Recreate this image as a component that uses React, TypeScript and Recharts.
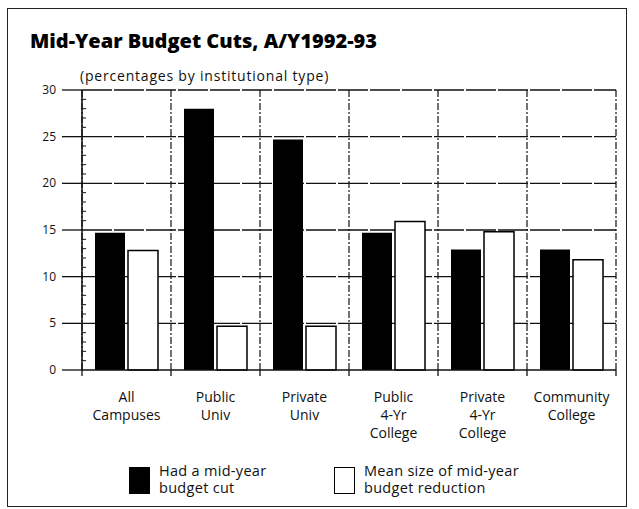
import React from "react";
import { BarChart, Bar, XAxis, YAxis, CartesianGrid } from "recharts";

const categories = [
  "All\nCampuses",
  "Public\nUniv",
  "Private\nUniv",
  "Public\n4-Yr\nCollege",
  "Private\n4-Yr\nCollege",
  "Community\nCollege",
];
const hadCut = [14.7, 28, 24.7, 14.7, 12.9, 12.9];
const meanSize = [12.8, 4.7, 4.7, 15.9, 14.8, 11.8];
const yMajorTicks = [0, 5, 10, 15, 20, 25, 30];
const yAllTicks = Array.from({ length: 31 }, (_, i) => i);
const gridYValues = [5, 10, 15, 20, 25, 30];
const seriesNames = ["Had a mid-year\nbudget cut", "Mean size of mid-year\nbudget reduction"];

const data = categories.map((c, i) => ({ name: c, hadCut: hadCut[i], meanSize: meanSize[i] }));

const FONT = "'Open Sans', 'DejaVu Sans', sans-serif";
const TICK_SIZE = 20;
const TICK_MARGIN = 6;

const YTick = (props: any) => {
  const { x, y, payload } = props;
  const v = payload.value;
  const axisX = x + TICK_SIZE + TICK_MARGIN;
  if (yMajorTicks.includes(v)) {
    return (
      <g>
        <line x1={axisX - TICK_SIZE} x2={axisX} y1={y} y2={y} stroke="#111" strokeWidth={1.3} />
        <text x={x} y={y} dy={4} textAnchor="end" fontSize={12} fontFamily={FONT} fill="#111">
          {v}
        </text>
      </g>
    );
  }
  return <line x1={axisX} x2={axisX + 4} y1={y} y2={y} stroke="#111" strokeWidth={1} />;
};

const XTick = (props: any) => {
  const { x, y, payload, width, visibleTicksCount, index } = props;
  const lines = String(payload.value).split("\n");
  const bw = width / visibleTicksCount;
  const left = x - bw / 2;
  const right = x + bw / 2;
  return (
    <g>
      <line x1={left} x2={left} y1={y} y2={y + 6} stroke="#111" strokeWidth={1.3} />
      {index === visibleTicksCount - 1 && (
        <line x1={right} x2={right} y1={y} y2={y + 6} stroke="#111" strokeWidth={1.3} />
      )}
      <text x={x} y={y} textAnchor="middle" fontSize={14} fontFamily={FONT} fill="#111">
        {lines.map((l, i) => (
          <tspan key={i} x={x} dy={i === 0 ? 32 : 18}>
            {l}
          </tspan>
        ))}
      </text>
    </g>
  );
};

const verticalGen = (args: any) => {
  const off = args.offset;
  const n = categories.length;
  return [...categories.map((_, i) => off.left + (i * off.width) / n), off.left + off.width];
};

const LegendItem = ({ left, fill, label }: { left: number; fill: string; label: string }) => (
  <div style={{ position: "absolute", left, top: 462, display: "flex", alignItems: "flex-start" }}>
    <div
      style={{
        width: 21,
        height: 27,
        background: fill,
        border: "1.5px solid #000",
        boxSizing: "border-box",
        marginTop: 5,
      }}
    />
    <div
      style={{
        marginLeft: 9,
        fontFamily: FONT,
        fontSize: 14.5,
        letterSpacing: 0.3,
        lineHeight: "17px",
        color: "#111",
        whiteSpace: "pre",
      }}
    >
      {label}
    </div>
  </div>
);

export default function App() {
  return (
    <div style={{ position: "absolute", left: 0, top: 0, width: 639, height: 509, background: "#fff" }}>
      <div
        style={{
          position: "absolute",
          left: 7,
          top: 8,
          width: 620,
          height: 499,
          border: "1.5px solid #222",
          boxSizing: "border-box",
        }}
      />
      <div
        style={{
          position: "absolute",
          left: 30,
          top: 27,
          fontFamily: FONT,
          fontWeight: 800,
          fontSize: 20,
          color: "#000",
          whiteSpace: "nowrap",
        }}
      >
        Mid-Year Budget Cuts, A/Y1992-93
      </div>
      <div
        style={{
          position: "absolute",
          left: 80,
          top: 66,
          fontFamily: FONT,
          fontSize: 14,
          letterSpacing: 0.8,
          color: "#111",
          whiteSpace: "nowrap",
        }}
      >
        (percentages by institutional type)
      </div>
      <div style={{ position: "absolute", left: 0, top: 0 }}>
        <BarChart
          width={639}
          height={509}
          data={data}
          margin={{ top: 90, right: 23, left: 42, bottom: 79 }}
          barSize={30}
          barGap={3}
        >
          <XAxis
            xAxisId="cat"
            dataKey="name"
            height={60}
            interval={0}
            tickLine={false}
            tickSize={0}
            tickMargin={0}
            axisLine={{ stroke: "#111", strokeWidth: 1.5 }}
            tick={<XTick />}
          />
          <YAxis
            yAxisId="y"
            type="number"
            domain={[0, 30]}
            ticks={yAllTicks}
            interval={0}
            width={40}
            tickLine={false}
            tickSize={TICK_SIZE}
            tickMargin={TICK_MARGIN}
            axisLine={{ stroke: "#111", strokeWidth: 1.5 }}
            tick={<YTick />}
          />
          <CartesianGrid
            xAxisId="cat"
            yAxisId="y"
            horizontal={false}
            verticalCoordinatesGenerator={verticalGen}
            stroke="#111"
            strokeWidth={1.2}
            strokeDasharray="7 2 2 2"
          />
          <CartesianGrid
            xAxisId="cat"
            yAxisId="y"
            vertical={false}
            horizontalValues={gridYValues}
            stroke="#111"
            strokeWidth={1.3}
            strokeDasharray="30 2"
          />
          <Bar xAxisId="cat" yAxisId="y" dataKey="hadCut" name={seriesNames[0]} fill="#000" isAnimationActive={false} />
          <Bar
            xAxisId="cat"
            yAxisId="y"
            dataKey="meanSize"
            name={seriesNames[1]}
            fill="#fff"
            stroke="#000"
            strokeWidth={1.5}
            isAnimationActive={false}
          />
        </BarChart>
      </div>
      <LegendItem left={129} fill="#000" label={seriesNames[0]} />
      <LegendItem left={334} fill="#fff" label={seriesNames[1]} />
    </div>
  );
}
